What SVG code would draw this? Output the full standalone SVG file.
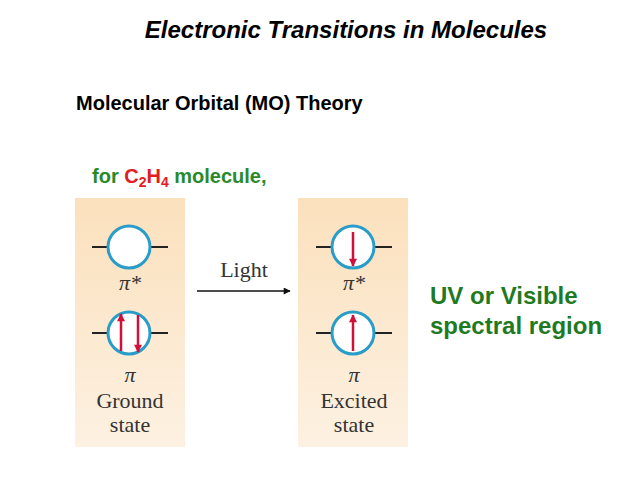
<svg xmlns="http://www.w3.org/2000/svg" width="638" height="479" viewBox="0 0 638 479">
<style>
.t{font-family:"Liberation Sans",Arial,sans-serif;font-weight:bold}
.s{font-family:"Liberation Serif","Times New Roman",serif;font-size:22px;fill:#333;text-anchor:middle}
.orb{fill:#fff;stroke:#2a9cc8;stroke-width:3}
.lvl{stroke:#222;stroke-width:2}
.e{stroke:#d0103a;stroke-width:2.5;fill:none}
</style>
<defs>
<linearGradient id="g" x1="0" y1="0" x2="0" y2="1"><stop offset="0" stop-color="#fbe0bc"/><stop offset="1" stop-color="#fdf1e2"/></linearGradient>
<marker id="ah" viewBox="0 0 10 10" refX="9" refY="5" markerWidth="10" markerHeight="8" orient="auto" markerUnits="userSpaceOnUse"><path d="M0,0L10,5L0,10z" fill="#d0103a"/></marker>
<marker id="la" viewBox="0 0 10 10" refX="9" refY="5" markerWidth="10" markerHeight="7" orient="auto" markerUnits="userSpaceOnUse"><path d="M0,0L10,5L0,10z" fill="#111"/></marker>
</defs>
<rect width="638" height="479" fill="#fff"/>
<text class="t" x="346" y="38" font-size="24" font-style="italic" text-anchor="middle">Electronic Transitions in Molecules</text>
<text class="t" x="76" y="110" font-size="20">Molecular Orbital (MO) Theory</text>
<text class="t" x="92" y="183" font-size="20" fill="#2a8a2a">for <tspan fill="#e02020">C<tspan font-size="14" dy="4">2</tspan><tspan dy="-4">H</tspan><tspan font-size="14" dy="4">4</tspan></tspan><tspan dy="-4"> molecule,</tspan></text>
<g id="ground">
<rect x="75" y="198" width="110" height="249" fill="url(#g)"/>
<line class="lvl" x1="92" y1="247" x2="168" y2="247"/><circle class="orb" cx="129" cy="247" r="21"/>
<line class="lvl" x1="92" y1="333" x2="168" y2="333"/><circle class="orb" cx="129" cy="333" r="21"/>
<line class="e" x1="121" y1="351" x2="121" y2="314" marker-end="url(#ah)"/>
<line class="e" x1="138" y1="315" x2="138" y2="352" marker-end="url(#ah)"/>
<text class="s" x="130" y="290" font-style="italic">π*</text>
<text class="s" x="130" y="382" font-style="italic">π</text>
<text class="s" x="130" y="408">Ground</text>
<text class="s" x="130" y="432">state</text>
</g>
<g id="excited">
<rect x="298" y="198" width="110" height="249" fill="url(#g)"/>
<line class="lvl" x1="316" y1="247" x2="392" y2="247"/><circle class="orb" cx="353" cy="247" r="21"/>
<line class="lvl" x1="316" y1="333" x2="392" y2="333"/><circle class="orb" cx="353" cy="333" r="21"/>
<line class="e" x1="353" y1="232" x2="353" y2="266" marker-end="url(#ah)"/>
<line class="e" x1="353" y1="351" x2="353" y2="315" marker-end="url(#ah)"/>
<text class="s" x="354" y="290" font-style="italic">π*</text>
<text class="s" x="354" y="382" font-style="italic">π</text>
<text class="s" x="354" y="408">Excited</text>
<text class="s" x="354" y="432">state</text>
</g>
<g id="connectors">
<line x1="197" y1="291" x2="290" y2="291" stroke="#111" stroke-width="1.5" marker-end="url(#la)"/>
<text class="s" x="244" y="277">Light</text>
</g>
<text class="t" x="430" y="304" font-size="24" fill="#1f7a1f">UV or Visible</text>
<text class="t" x="430" y="334" font-size="24" fill="#1f7a1f">spectral region</text>
</svg>
